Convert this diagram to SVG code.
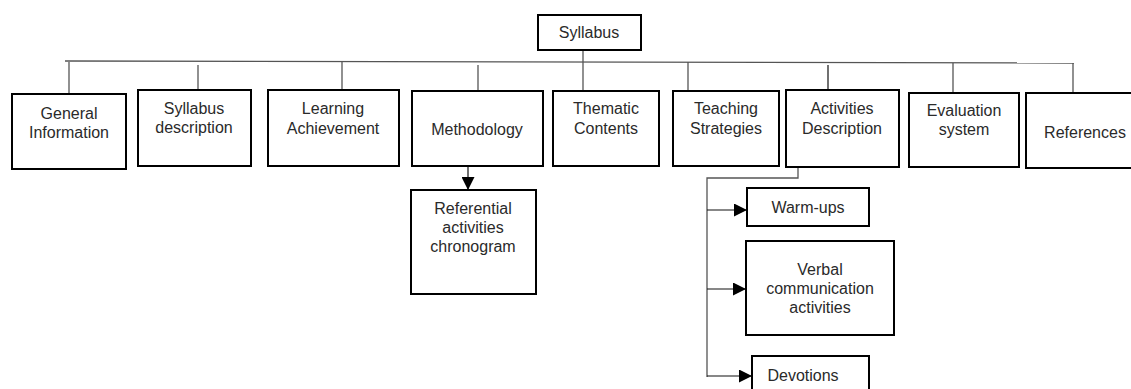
<svg xmlns="http://www.w3.org/2000/svg" width="1131" height="389" viewBox="0 0 1131 389">
<defs>
<style>
.box{fill:#fff;stroke:#000;stroke-width:2}
.t{font-family:"Liberation Sans",Arial,sans-serif;font-size:16px;fill:#2a2a2a;text-anchor:middle}
.c{fill:none;stroke:#555;stroke-width:1.3}
.a{fill:none;stroke:#111;stroke-width:1.2}
</style>
<marker id="arr" viewBox="0 0 10 10" refX="10" refY="5" markerWidth="13" markerHeight="13" markerUnits="userSpaceOnUse" orient="auto">
<path d="M0,0 L10,5 L0,10 Z" fill="#000"/>
</marker>
</defs>
<rect width="1131" height="389" fill="#fff"/>
<g id="connectors">
<path class="c" d="M583,50 V90"/>
<path class="c" d="M65,61 L1074,63"/>
<path class="c" d="M69,62 V94"/>
<path class="c" d="M198,65 V90"/>
<path class="c" d="M342,62 V90"/>
<path class="c" d="M478,65 V91"/>
<path class="c" d="M688,62 V91"/>
<path class="a" d="M828,65 V91"/>
<path class="c" d="M953,63 V92"/>
<path class="c" d="M1073,63 V93"/>
<path class="a" d="M468,167 V190" marker-end="url(#arr)"/>
<path class="c" d="M798,168 V178 H707 V377"/>
<path class="a" d="M707,210 H747" marker-end="url(#arr)"/>
<path class="a" d="M707,289 H746" marker-end="url(#arr)"/>
<path class="a" d="M707,376 H752" marker-end="url(#arr)"/>
</g>
<g id="syllabus"><rect class="box" x="538" y="15" width="103" height="35"/><text class="t" x="589" y="38">Syllabus</text></g>
<g id="general"><rect class="box" x="12" y="94" width="114" height="75"/><text class="t" x="69" y="119">General</text><text class="t" x="69" y="138">Information</text></g>
<g id="syldesc"><rect class="box" x="138" y="90" width="113" height="76"/><text class="t" x="194" y="114">Syllabus</text><text class="t" x="194" y="133">description</text></g>
<g id="learning"><rect class="box" x="268" y="90" width="131" height="76"/><text class="t" x="333" y="114">Learning</text><text class="t" x="333" y="134">Achievement</text></g>
<g id="methodology"><rect class="box" x="412" y="91" width="131" height="75"/><text class="t" x="477" y="135">Methodology</text></g>
<g id="thematic"><rect class="box" x="553" y="91" width="106" height="75"/><text class="t" x="606" y="114">Thematic</text><text class="t" x="606" y="134">Contents</text></g>
<g id="teaching"><rect class="box" x="673" y="91" width="106" height="75"/><text class="t" x="726" y="114">Teaching</text><text class="t" x="726" y="134">Strategies</text></g>
<g id="activities"><rect class="box" x="786" y="90" width="113" height="77"/><text class="t" x="842" y="114">Activities</text><text class="t" x="842" y="134">Description</text></g>
<g id="evaluation"><rect class="box" x="909" y="93" width="110" height="74"/><text class="t" x="964" y="116">Evaluation</text><text class="t" x="964" y="135">system</text></g>
<g id="references"><rect class="box" x="1026" y="93" width="110" height="75"/><text class="t" x="1085" y="138">References</text></g>
<g id="referential"><rect class="box" x="411" y="190" width="125" height="104"/><text class="t" x="473" y="214">Referential</text><text class="t" x="473" y="233">activities</text><text class="t" x="473" y="252">chronogram</text></g>
<g id="warmups"><rect class="box" x="747" y="188" width="122" height="38"/><text class="t" x="808" y="213">Warm-ups</text></g>
<g id="verbal"><rect class="box" x="746" y="241" width="148" height="94"/><text class="t" x="820" y="275">Verbal</text><text class="t" x="820" y="294">communication</text><text class="t" x="820" y="313">activities</text></g>
<g id="devotions"><rect class="box" x="752" y="356" width="117" height="40"/><text class="t" x="803" y="381">Devotions</text></g>
</svg>
